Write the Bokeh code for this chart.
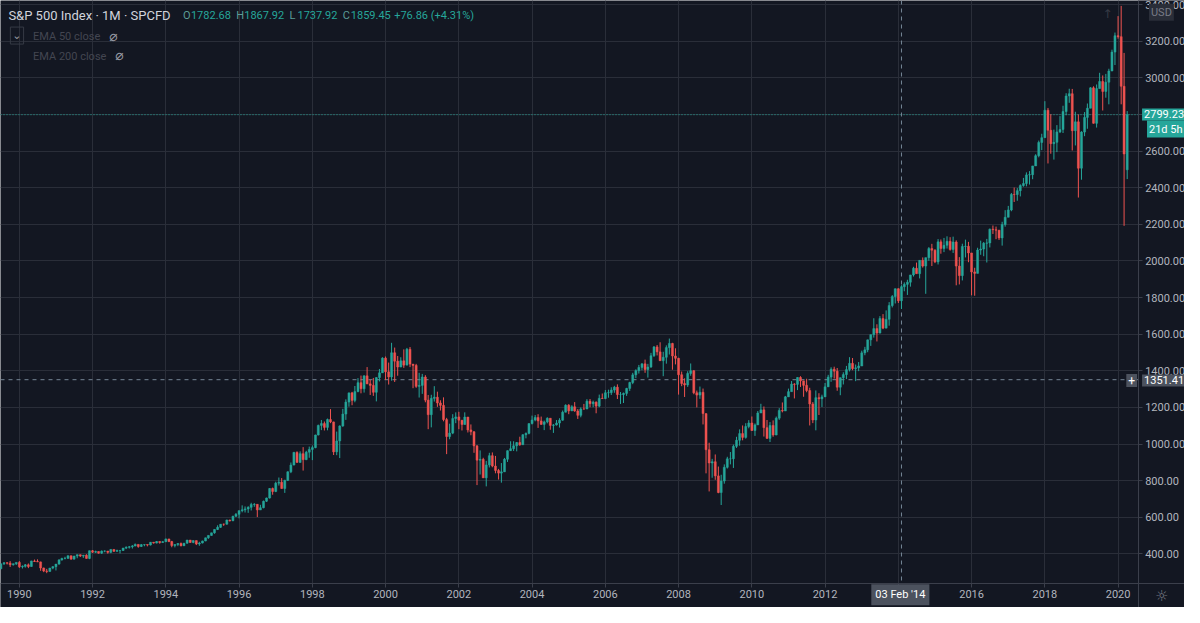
import pandas as pd
from bokeh.plotting import figure
from bokeh.models import (Range1d, FixedTicker, DatetimeTickFormatter, BoxAnnotation,
                          NumeralTickFormatter, Span, Label, ColumnDataSource)
from bokeh.embed import file_html
from bokeh.resources import INLINE

# ---------------- data (monthly, SPCFD) ----------------
start_month = "1989-07-01"
first_open = 317.98
apr2020_open = 2498.08

close_ = [
    346.08, 351.45, 349.15, 340.36, 345.99, 353.40,
    329.08, 331.89, 339.94, 330.80, 361.23, 358.02, 356.15, 322.56, 306.05, 304.00, 322.22, 330.22,
    343.93, 367.07, 375.22, 375.34, 389.83, 371.16, 387.81, 395.43, 387.86, 392.46, 375.22, 417.09,
    408.79, 412.70, 403.69, 414.95, 415.35, 408.14, 424.21, 414.03, 417.80, 418.68, 431.35, 435.71,
    438.78, 443.38, 451.67, 440.19, 450.19, 450.53, 448.13, 463.56, 458.93, 467.83, 461.79, 466.45,
    481.61, 467.14, 445.77, 450.91, 456.50, 444.27, 458.26, 475.49, 462.69, 472.35, 453.69, 459.27,
    470.42, 487.39, 500.71, 514.71, 533.40, 544.75, 562.06, 561.88, 584.41, 581.50, 605.37, 615.93,
    636.02, 640.43, 645.50, 654.17, 669.12, 670.63, 639.95, 651.99, 687.31, 705.27, 757.02, 740.74,
    786.16, 790.82, 757.12, 801.34, 848.28, 885.14, 954.31, 899.47, 947.28, 914.62, 955.40, 970.43,
    980.28, 1049.34, 1101.75, 1111.75, 1090.82, 1133.84, 1120.67, 957.28, 1017.01, 1098.67, 1163.63, 1229.23,
    1279.64, 1238.33, 1286.37, 1335.18, 1301.84, 1372.71, 1328.72, 1320.41, 1282.71, 1362.93, 1388.91, 1469.25,
    1394.46, 1366.42, 1498.58, 1452.43, 1420.60, 1454.60, 1430.83, 1517.68, 1436.51, 1429.40, 1314.95, 1320.28,
    1366.01, 1239.94, 1160.33, 1249.46, 1255.82, 1224.42, 1211.23, 1133.58, 1040.94, 1059.78, 1139.45, 1148.08,
    1130.20, 1106.73, 1147.39, 1076.92, 1067.14, 989.82, 911.62, 916.07, 815.28, 885.76, 936.31, 879.82,
    855.70, 841.15, 848.18, 916.92, 963.59, 974.50, 990.31, 1008.01, 995.97, 1050.71, 1058.20, 1111.92,
    1131.13, 1144.94, 1126.21, 1107.30, 1120.68, 1140.84, 1101.72, 1104.24, 1114.58, 1130.20, 1173.82, 1211.92,
    1181.27, 1203.60, 1180.59, 1156.85, 1191.50, 1191.33, 1234.18, 1220.33, 1228.81, 1207.01, 1249.48, 1248.29,
    1280.08, 1280.66, 1294.83, 1310.61, 1270.09, 1270.20, 1276.66, 1303.82, 1335.85, 1377.94, 1400.63, 1418.30,
    1438.24, 1406.82, 1420.86, 1482.37, 1530.62, 1503.35, 1455.27, 1473.99, 1526.75, 1549.38, 1481.14, 1468.36,
    1378.55, 1330.63, 1322.70, 1385.59, 1400.38, 1280.00, 1267.38, 1282.83, 1166.36, 968.75, 896.24, 903.25,
    825.88, 735.09, 797.87, 872.81, 919.14, 919.32, 987.48, 1020.62, 1057.08, 1036.19, 1095.63, 1115.10,
    1073.87, 1104.49, 1169.43, 1186.69, 1089.41, 1030.71, 1101.60, 1049.33, 1141.20, 1183.26, 1180.55, 1257.64,
    1286.12, 1327.22, 1325.83, 1363.61, 1345.20, 1320.64, 1292.28, 1218.89, 1131.42, 1253.30, 1246.96, 1257.60,
    1312.41, 1365.68, 1408.47, 1397.91, 1310.33, 1362.16, 1379.32, 1406.58, 1440.67, 1412.16, 1416.18, 1426.19,
    1498.11, 1514.68, 1569.19, 1597.57, 1630.74, 1606.28, 1685.73, 1632.97, 1681.55, 1756.54, 1805.81, 1848.36,
    1782.68, 1859.45, 1872.34, 1883.95, 1923.57, 1960.23, 1930.67, 2003.37, 1972.29, 2018.05, 2067.56, 2058.90,
    1994.99, 2104.50, 2067.89, 2085.51, 2107.39, 2063.11, 2103.84, 1972.18, 1920.03, 2079.36, 2080.41, 2043.94,
    1940.24, 1932.23, 2059.74, 2065.30, 2096.95, 2098.86, 2173.60, 2170.95, 2168.27, 2126.15, 2198.81, 2238.83,
    2278.87, 2363.64, 2362.72, 2384.20, 2411.80, 2423.41, 2470.30, 2471.65, 2519.36, 2575.26, 2647.58, 2673.61,
    2823.81, 2713.83, 2640.87, 2648.05, 2705.27, 2718.37, 2816.29, 2901.52, 2913.98, 2711.74, 2760.17, 2506.85,
    2704.10, 2784.49, 2834.40, 2945.83, 2752.06, 2941.76, 2980.38, 2926.46, 2976.74, 3037.56, 3140.98, 3230.78,
    3225.52, 2954.22, 2584.59, 2799.23,
]

high_ = [
    346.1, 353.7, 354.0, 360.4, 346.5, 353.4,
    360.6, 337.0, 344.5, 347.3, 362.3, 368.8, 369.8, 357.6, 325.0, 318.0, 323.0, 333.0,
    344.0, 370.5, 378.3, 384.0, 391.0, 389.5, 389.0, 396.0, 396.0, 394.0, 398.0, 418.0,
    421.0, 417.5, 413.0, 418.5, 419.0, 415.5, 425.0, 424.5, 423.0, 419.5, 432.5, 441.0,
    443.0, 448.0, 456.5, 452.0, 453.5, 451.5, 451.0, 464.0, 463.5, 470.0, 468.0, 470.5,
    482.9, 482.0, 471.0, 452.0, 458.0, 462.0, 459.0, 476.0, 475.0, 473.5, 471.0, 466.0,
    472.0, 488.0, 501.0, 515.0, 534.0, 556.0, 563.0, 565.0, 587.0, 587.0, 608.0, 623.0,
    637.0, 665.0, 659.0, 660.0, 679.0, 677.0, 672.0, 668.0, 691.0, 707.0, 759.0, 762.0,
    794.0, 817.0, 814.0, 805.0, 851.0, 899.0, 957.0, 960.0, 960.0, 983.0, 963.0, 986.0,
    992.0, 1051.0, 1106.0, 1131.0, 1123.0, 1139.0, 1190.6, 1122.0, 1068.0, 1102.0, 1192.0, 1244.0,
    1280.0, 1285.0, 1317.0, 1360.0, 1374.0, 1375.0, 1420.3, 1350.0, 1361.0, 1365.0, 1410.0, 1474.0,
    1478.0, 1445.0, 1552.9, 1527.0, 1481.0, 1474.0, 1517.0, 1525.0, 1530.0, 1437.0, 1438.0, 1389.0,
    1383.0, 1376.0, 1268.0, 1269.0, 1316.0, 1286.0, 1239.0, 1255.0, 1143.0, 1111.0, 1163.0, 1173.0,
    1176.0, 1130.0, 1173.0, 1148.0, 1107.0, 1070.0, 994.0, 965.0, 925.0, 908.0, 952.0, 954.0,
    935.0, 864.0, 896.0, 924.0, 965.0, 1015.0, 1015.0, 1011.0, 1040.0, 1054.0, 1063.0, 1112.0,
    1155.0, 1158.0, 1163.0, 1150.0, 1128.0, 1146.0, 1141.0, 1109.0, 1131.0, 1141.0, 1183.0, 1217.0,
    1218.0, 1212.0, 1229.0, 1191.0, 1200.0, 1219.0, 1245.0, 1246.0, 1237.0, 1233.0, 1270.0, 1276.0,
    1295.0, 1297.0, 1310.0, 1318.0, 1326.0, 1284.0, 1281.0, 1307.0, 1340.0, 1389.0, 1408.0, 1432.0,
    1441.0, 1461.0, 1438.0, 1498.0, 1535.0, 1541.0, 1556.0, 1504.0, 1539.0, 1576.1, 1553.0, 1523.0,
    1471.0, 1396.0, 1359.0, 1398.0, 1440.0, 1404.0, 1292.0, 1314.0, 1303.0, 1167.0, 1007.0, 919.0,
    943.0, 877.0, 832.0, 888.7, 930.2, 956.2, 996.7, 1039.5, 1080.2, 1101.4, 1113.7, 1130.4,
    1150.4, 1112.4, 1180.2, 1219.8, 1205.1, 1131.2, 1120.0, 1129.2, 1150.0, 1196.1, 1227.1, 1262.6,
    1302.7, 1344.1, 1332.3, 1364.6, 1370.6, 1345.2, 1356.5, 1307.4, 1229.3, 1292.7, 1277.6, 1269.4,
    1333.5, 1378.0, 1419.2, 1422.4, 1415.3, 1363.5, 1391.7, 1426.7, 1474.5, 1470.0, 1434.3, 1448.0,
    1509.9, 1530.9, 1570.3, 1597.6, 1687.2, 1654.2, 1698.8, 1709.7, 1730.0, 1775.2, 1813.6, 1849.4,
    1850.8, 1867.9, 1883.0, 1897.3, 1924.0, 1968.2, 1991.4, 2005.0, 2019.3, 2018.2, 2075.8, 2093.6,
    2064.4, 2119.6, 2117.5, 2125.9, 2134.7, 2129.9, 2132.8, 2112.7, 2021.0, 2094.3, 2116.5, 2104.3,
    2038.2, 1962.9, 2072.2, 2111.1, 2103.5, 2120.6, 2177.1, 2193.8, 2187.9, 2169.6, 2214.1, 2277.5,
    2300.9, 2371.5, 2401.0, 2398.2, 2418.7, 2453.8, 2484.0, 2490.9, 2519.4, 2583.0, 2657.7, 2695.0,
    2872.9, 2836.0, 2801.9, 2717.5, 2742.2, 2791.5, 2848.0, 2916.5, 2940.9, 2939.9, 2815.2, 2800.2,
    2709.0, 2813.5, 2860.3, 2949.5, 2954.1, 2964.2, 3028.0, 3013.6, 3022.0, 3050.1, 3154.3, 3247.9,
    3337.8, 3393.5, 3136.7, 2818.9,
]

low_ = [
    317.3, 339.0, 342.0, 328.0, 336.0, 339.3,
    322.9, 320.0, 324.8, 322.0, 330.1, 356.0, 355.0, 307.4, 300.0, 294.5, 303.0, 316.0,
    309.3, 340.9, 363.0, 370.0, 372.0, 369.0, 370.0, 376.0, 383.0, 378.0, 374.0, 371.0,
    405.0, 405.0, 401.0, 399.5, 409.0, 401.0, 403.5, 410.0, 411.5, 402.5, 416.0, 426.0,
    429.0, 429.0, 441.0, 433.5, 437.5, 441.5, 441.0, 446.0, 456.0, 457.0, 455.5, 460.0,
    464.5, 464.0, 436.0, 435.5, 442.0, 441.0, 443.0, 456.0, 460.5, 458.0, 448.0, 444.0,
    457.0, 469.0, 482.0, 499.0, 510.0, 530.0, 542.0, 553.0, 560.0, 576.0, 578.0, 602.0,
    594.0, 627.0, 626.0, 624.0, 637.0, 657.0, 601.0, 640.0, 649.0, 684.0, 702.0, 723.0,
    737.0, 773.0, 756.0, 733.0, 798.0, 841.0, 884.0, 898.0, 898.0, 855.0, 912.0, 925.0,
    912.0, 977.0, 1047.0, 1076.0, 1074.0, 1075.0, 1114.0, 940.0, 939.0, 923.3, 1094.0, 1132.0,
    1204.0, 1212.0, 1228.0, 1283.0, 1277.0, 1281.0, 1327.0, 1268.0, 1263.0, 1233.0, 1342.0, 1388.0,
    1350.0, 1325.0, 1346.0, 1339.0, 1373.0, 1420.0, 1416.0, 1431.0, 1420.0, 1305.0, 1307.0, 1254.0,
    1274.0, 1228.0, 1081.0, 1091.0, 1232.0, 1203.0, 1183.0, 1124.0, 944.8, 1026.0, 1054.0, 1114.0,
    1081.0, 1074.0, 1106.0, 1063.0, 1048.0, 952.0, 775.7, 833.4, 815.0, 768.6, 872.0, 873.0,
    840.0, 806.0, 788.9, 847.0, 902.0, 962.0, 962.0, 960.0, 990.0, 995.0, 1031.0, 1053.0,
    1107.0, 1124.0, 1088.0, 1105.0, 1076.0, 1113.0, 1078.0, 1060.7, 1101.0, 1090.0, 1127.0, 1173.0,
    1163.0, 1180.0, 1176.0, 1137.0, 1146.0, 1188.0, 1191.0, 1201.0, 1201.0, 1168.0, 1201.0, 1246.0,
    1245.0, 1253.0, 1268.0, 1280.0, 1246.0, 1219.0, 1224.0, 1263.0, 1290.0, 1327.0, 1360.0, 1385.0,
    1403.0, 1389.0, 1363.0, 1416.0, 1476.0, 1484.0, 1454.0, 1370.6, 1439.0, 1489.0, 1406.0, 1435.0,
    1270.0, 1316.0, 1257.0, 1312.0, 1373.0, 1272.0, 1200.0, 1247.0, 1107.0, 839.8, 741.0, 815.7,
    804.5, 731.1, 666.8, 783.3, 866.1, 888.9, 869.3, 978.5, 991.0, 1020.2, 1029.4, 1085.9,
    1071.6, 1044.5, 1105.3, 1170.7, 1040.8, 1028.3, 1010.9, 1039.7, 1048.1, 1131.9, 1173.0, 1186.6,
    1257.6, 1289.1, 1249.1, 1294.7, 1311.8, 1258.1, 1282.9, 1101.5, 1114.2, 1074.8, 1158.7, 1202.4,
    1258.9, 1312.4, 1340.0, 1357.4, 1291.0, 1266.7, 1325.4, 1354.7, 1396.6, 1403.3, 1343.4, 1398.1,
    1426.2, 1485.0, 1501.5, 1536.0, 1581.3, 1560.3, 1604.6, 1627.5, 1633.4, 1646.5, 1746.2, 1767.9,
    1770.5, 1737.9, 1834.4, 1814.4, 1859.8, 1915.0, 1930.7, 1904.8, 1964.0, 1820.7, 2001.0, 1972.6,
    1988.1, 1980.9, 2039.7, 2048.4, 2067.9, 2056.3, 2044.0, 1867.0, 1871.9, 1893.7, 2019.4, 1993.3,
    1812.3, 1810.1, 1937.1, 2033.8, 2025.9, 1991.7, 2074.0, 2147.6, 2119.1, 2114.7, 2083.8, 2187.4,
    2245.1, 2271.7, 2322.3, 2329.0, 2352.7, 2405.7, 2407.7, 2417.4, 2446.6, 2520.4, 2566.3, 2605.5,
    2682.4, 2532.7, 2585.9, 2553.8, 2594.6, 2698.7, 2699.0, 2796.3, 2864.1, 2603.5, 2631.1, 2346.6,
    2444.0, 2681.8, 2722.3, 2848.6, 2750.5, 2728.8, 2952.2, 2822.1, 2891.9, 2855.9, 3050.7, 3070.3,
    3214.6, 2855.8, 2191.9, 2447.5,
]

year_ticks = [1990, 1992, 1994, 1996, 1998, 2000, 2002, 2004, 2006, 2008,
              2010, 2012, 2014, 2016, 2018, 2020]
price_ticks = [400, 600, 800, 1000, 1200, 1400, 1600, 1800, 2000, 2200,
               2400, 2600, 2800, 3000, 3200, 3400]

last_price = 2799.23
countdown = "21d 5h"
cross_date = "2014-02-01"
cross_price = 1351.41
cross_date_label = "03 Feb '14"
hover_ohlc = [("O", "1782.68"), ("H", "1867.92"), ("L", "1737.92"), ("C", "1859.45")]
hover_change = "+76.86 (+4.31%)"
title_text = "S&P 500 Index \u00b7 1M \u00b7 SPCFD"

# ---------------- build ----------------
UP, DOWN = "#26a69a", "#ef5350"
BG = "#131722"
GRID = "#2a2e39"
AXIS = "#3b3f4b"
TXT = "#b2b5be"
TAG_GRAY = "#4c525e"

dates = pd.date_range(start_month, periods=len(close_), freq="MS")
open_ = [first_open] + close_[:-1]
open_[-1] = apr2020_open
hi = [max(h, o, c) for h, o, c in zip(high_, open_, close_)]
lo = [min(l, o, c) for l, o, c in zip(low_, open_, close_)]
src = ColumnDataSource(dict(
    x=dates,
    top=[max(o, c) for o, c in zip(open_, close_)],
    bottom=[min(o, c) for o, c in zip(open_, close_)],
    high=hi, low=lo,
    color=[UP if c >= o else DOWN for o, c in zip(open_, close_)],
))

def ms(s):
    return pd.Timestamp(s).value / 1e6

# chart pane of the reference: px 0..1153 <-> X0..X1, py 0..598 <-> Y1..Y0
X0, X1 = ms("1989-06-27"), ms("2020-07-19")
Y0, Y1 = 240.0, 3423.0
PANE_W, PANE_H = 1153.0, 598.0
FULL_W, FULL_H = 1200.0, 623.0

def X(px):
    return X0 + (X1 - X0) * px / PANE_W

def Y(py):
    return Y1 - (Y1 - Y0) * py / PANE_H

p = figure(width=1184, height=607, x_axis_type="datetime", y_axis_location="right",
           x_range=Range1d(X(0), X(FULL_W)), y_range=Range1d(Y(FULL_H), Y(0)),
           output_backend="svg", toolbar_location=None, min_border=0,
           background_fill_color=BG, border_fill_color=BG, outline_line_color=None)

year_ms = [ms(f"{y}-01-01") for y in year_ticks]
p.xgrid.ticker = FixedTicker(ticks=year_ms)
p.ygrid.ticker = FixedTicker(ticks=price_ticks)
for g in (p.xgrid[0], p.ygrid[0]):
    g.grid_line_color = GRID
    g.grid_line_width = 1

# price line + crosshair (under the scale panes)
p.add_layout(Span(location=last_price, dimension="width", line_color=UP,
                  line_dash="1 2", line_width=1, level="underlay"))
p.add_layout(Span(location=ms(cross_date), dimension="height", line_color="#758696",
                  line_dash="4 4", line_width=1, level="underlay"))
p.add_layout(Span(location=cross_price, dimension="width", line_color="#758696",
                  line_dash="4 4", line_width=1, level="underlay"))

# candles
p.segment(x0="x", y0="high", x1="x", y1="low", line_color="color", line_width=1, source=src)
p.vbar(x="x", width=20 * 86400000, top="top", bottom="bottom",
       fill_color="color", line_color="color", line_width=0.5, source=src)

# opaque scale panes (right price scale, bottom time scale)
p.add_layout(BoxAnnotation(left=X(PANE_W), fill_color=BG, fill_alpha=1.0,
                           line_color=None, level="glyph"))
p.add_layout(BoxAnnotation(top=Y(PANE_H), fill_color=BG, fill_alpha=1.0,
                           line_color=None, level="glyph"))

# axes drawn at the pane borders
p.xaxis.ticker = FixedTicker(ticks=year_ms)
p.xaxis.formatter = DatetimeTickFormatter(years="%Y", months="%Y", days="%Y")
p.xaxis.fixed_location = Y(PANE_H)
p.yaxis.ticker = FixedTicker(ticks=price_ticks)
p.yaxis.formatter = NumeralTickFormatter(format="0.00")
p.yaxis.fixed_location = X(PANE_W)
for ax in (p.xaxis[0], p.yaxis[0]):
    ax.axis_line_color = AXIS
    ax.major_tick_line_color = AXIS
    ax.minor_tick_line_color = None
    ax.major_tick_in = 0
    ax.major_tick_out = 4
    ax.major_label_text_color = TXT
    ax.major_label_text_font = "Roboto"
    ax.major_label_text_font_size = "11px"
    ax.major_label_standoff = 3

def lab(px, py, text, color, size="12px", align="left", font="Roboto", style="normal", **kw):
    p.add_layout(Label(x=X(px), y=Y(py), text=text, text_color=color, text_font=font,
                       text_font_size=size, text_align=align, text_baseline="middle",
                       text_font_style=style, **kw))

# right-side value tags
lab(1157, 117, f"{last_price:.2f}", "#ffffff", size="11px",
    background_fill_color=UP, padding=2)
lab(1162, 132, countdown, "#ffffff", size="11px",
    background_fill_color=UP, padding=2)
lab(1141, 390, "+", "#ffffff", size="12px", background_fill_color=TAG_GRAY, padding=2)
lab(1157, 390, f"{cross_price:.2f}", "#ffffff", size="11px",
    background_fill_color=TAG_GRAY, padding=2)
lab(912, 610, cross_date_label, "#ffffff", size="11px", align="center",
    background_fill_color=TAG_GRAY, padding=4)
lab(1164, 12, "USD", "#787b86", size="11px", background_fill_color="#2a2e39", padding=2)
lab(1117, 14, "\u2191", "#363a45", size="12px", font="DejaVu Sans")
lab(1170, 611, "\u263c", "#787b86", size="15px", font="DejaVu Sans")

# legend (top-left)
lab(8, 15, title_text, "#d1d4dc", size="13px")
ohlc_px = [185, 239, 293, 347]
for (k, v), px in zip(hover_ohlc, ohlc_px):
    lab(px, 15, k, "#5b9c96", size="11px")
    lab(px + 8, 15, v, UP, size="11px")
lab(399, 15, hover_change, UP, size="11px")
lab(10, 36, "\u2304", "#9598a1", size="11px", font="DejaVu Sans",
    border_line_color="#363a45", padding=2)
lab(33, 37, "EMA 50 close", "#434651", size="11px")
lab(110, 36, "\u2300", "#9598a1", size="14px", font="DejaVu Sans")
lab(33, 57, "EMA 200 close", "#434651", size="11px")
lab(116, 56, "\u2300", "#9598a1", size="14px", font="DejaVu Sans")

open("out.html", "w").write(file_html(p, INLINE))
